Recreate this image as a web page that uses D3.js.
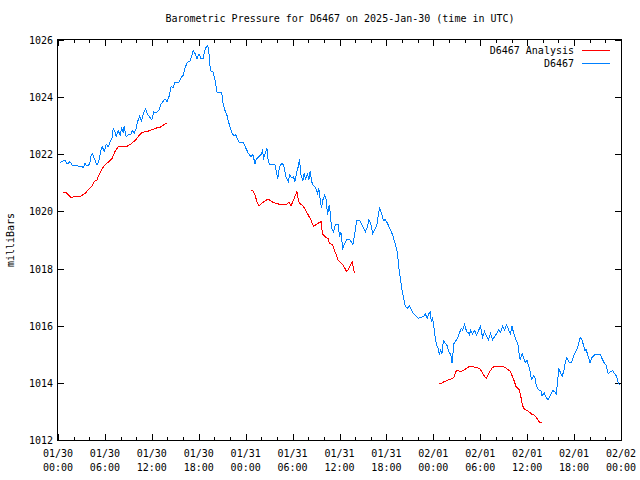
<!DOCTYPE html>
<html>
<head>
<meta charset="utf-8">
<script src="https://cdn.jsdelivr.net/npm/d3@7"></script>
<style>
  html, body { margin: 0; padding: 0; background: #fff; }
  text { font-family: "DejaVu Sans Mono", "Liberation Mono", monospace; font-size: 10px; fill: #000; }
</style>
</head>
<body>
<svg id="chart" width="640" height="480"></svg>
<script>
// ---- Data (hours since 2025-01-30 00:00 UTC, pressure in millibars) ----
const stationHours = [0.26,0.89,1.15,1.53,1.79,2.17,2.43,2.68,3.03,3.23,3.45,3.70,4.05,4.21,4.38,4.63,4.98,5.23,5.49,5.66,5.91,6.17,6.42,6.68,6.93,7.06,7.28,7.44,7.70,7.95,8.13,8.34,8.46,8.72,8.97,9.32,9.49,9.74,10.0,10.17,10.43,10.69,10.94,11.20,11.45,11.74,12.0,12.26,12.60,12.93,13.19,13.44,13.70,13.95,14.21,14.46,14.72,14.97,15.49,15.74,16.0,16.25,16.51,16.85,17.11,17.27,17.53,17.78,18.04,18.29,18.55,18.73,18.98,19.15,19.31,19.49,19.83,20.08,20.34,20.59,20.94,21.10,21.36,21.61,21.79,22.05,22.21,22.47,22.72,22.89,23.14,23.65,24.0,24.34,24.68,24.93,25.19,25.37,25.70,25.95,26.13,26.30,26.55,26.72,26.90,27.06,27.74,27.92,28.09,28.34,28.60,28.85,29.02,29.19,29.45,29.62,29.87,30.13,30.29,30.55,30.73,30.89,31.06,31.31,31.49,31.66,31.91,32.08,32.26,32.43,32.68,32.94,33.19,33.36,33.54,33.70,33.87,34.12,34.30,34.47,34.63,34.72,34.98,35.23,35.49,35.83,36.00,36.17,36.42,36.68,36.93,37.37,37.70,37.95,38.21,38.55,38.81,39.06,39.32,39.57,39.74,40.0,40.25,40.51,40.76,40.94,41.11,41.36,41.62,41.87,42.13,42.38,42.64,42.89,43.15,43.40,43.57,43.75,44.00,44.26,44.43,44.68,44.94,45.19,45.45,45.61,45.87,46.12,46.38,46.72,46.98,47.23,47.40,47.58,47.74,47.91,48.09,48.26,48.42,48.60,48.77,48.93,49.11,49.28,49.53,49.79,50.04,50.21,50.39,50.64,50.90,51.15,51.32,51.57,51.74,52.0,52.25,52.43,52.60,52.76,53.02,53.27,53.53,53.78,54.04,54.29,54.55,54.80,55.06,55.31,55.57,55.82,56.08,56.34,56.59,56.85,57.10,57.36,57.61,57.87,58.05,58.30,58.56,58.81,58.89,59.11,59.36,59.62,59.78,59.96,60.22,60.38,60.55,60.81,60.98,61.15,61.32,61.57,61.75,61.91,62.17,62.43,62.68,63.28,63.54,63.70,63.87,64.05,64.21,64.47,64.72,64.89,65.07,65.40,65.66,65.83,66.09,66.34,66.60,66.77,67.02,67.19,67.37,67.53,67.79,68.04,68.30,68.72,69.06,69.32,69.66,69.92,70.09,70.34,70.69,70.94,71.20,71.45,71.62,71.78];
const stationPressure = [1021.72,1021.80,1021.65,1021.74,1021.63,1021.59,1021.63,1021.56,1021.59,1021.53,1021.68,1021.59,1021.65,1021.92,1022.03,1021.86,1021.63,1021.77,1022.15,1022.27,1022.09,1022.35,1022.27,1022.44,1022.58,1022.91,1022.79,1022.61,1022.82,1022.68,1022.91,1022.77,1022.97,1022.61,1022.68,1022.70,1022.85,1022.73,1022.91,1023.14,1023.32,1023.17,1023.43,1023.59,1023.40,1023.29,1023.21,1023.48,1023.45,1023.56,1023.76,1023.85,1023.94,1023.85,1024.03,1024.38,1024.34,1024.53,1024.53,1024.69,1024.76,1025.02,1025.21,1025.25,1025.43,1025.63,1025.53,1025.35,1025.51,1025.35,1025.35,1025.58,1025.78,1025.81,1025.51,1024.93,1024.88,1024.61,1024.18,1024.15,1024.15,1023.80,1023.53,1023.36,1023.15,1022.92,1022.75,1022.66,1022.69,1022.57,1022.43,1022.43,1022.23,1022.03,1021.92,1022.00,1021.65,1021.84,1021.92,1021.98,1022.12,1021.88,1022.07,1022.21,1021.74,1021.63,1021.63,1021.39,1021.14,1021.57,1021.68,1021.63,1021.39,1021.18,1021.04,1021.28,1021.18,1021.22,1021.02,1021.39,1021.57,1021.84,1021.28,1021.07,1021.33,1021.14,1021.30,1021.10,1021.42,1021.04,1020.90,1020.83,1020.63,1020.81,1020.40,1020.11,1020.40,1020.58,1020.40,1019.88,1020.17,1020.23,1019.41,1019.29,1019.56,1019.56,1019.12,1019.29,1018.71,1018.88,1019.02,1019.00,1018.83,1019.23,1019.70,1019.70,1019.56,1019.44,1019.29,1019.47,1019.70,1019.58,1019.23,1019.37,1019.49,1019.84,1020.11,1019.96,1019.68,1019.72,1019.58,1019.44,1019.29,1019.09,1018.83,1018.56,1018.07,1017.72,1017.25,1016.90,1016.67,1016.61,1016.69,1016.55,1016.43,1016.38,1016.32,1016.26,1016.29,1016.32,1016.41,1016.26,1016.41,1016.49,1016.14,1016.26,1015.91,1015.56,1015.33,1015.21,1015.01,1015.15,1015.03,1015.48,1015.38,1015.29,1015.03,1015.03,1014.71,1015.38,1015.48,1015.59,1015.73,1015.91,1015.85,1016.06,1015.79,1015.76,1015.68,1015.83,1015.71,1015.83,1015.68,1015.83,1015.99,1015.59,1015.79,1015.64,1015.50,1015.73,1015.50,1015.62,1015.71,1015.85,1015.76,1015.99,1015.85,1016.03,1015.87,1015.71,1015.99,1015.71,1015.50,1015.38,1015.15,1014.80,1015.03,1014.80,1014.71,1014.80,1014.57,1014.39,1014.12,1014.24,1014.19,1013.93,1013.81,1013.73,1013.75,1013.54,1013.66,1013.49,1013.40,1013.73,1013.69,1013.61,1013.98,1014.51,1014.39,1014.22,1014.45,1014.74,1014.89,1014.71,1014.71,1014.86,1015.03,1015.17,1015.38,1015.59,1015.50,1015.33,1015.13,1015.17,1014.94,1014.71,1014.89,1015.01,1014.98,1015.01,1014.80,1014.66,1014.63,1014.33,1014.39,1014.43,1014.31,1014.22,1014.04,1013.93,1014.01];

// Analysis series: null marks a gap between analysis runs
const analysisHours = [0.64,0.98,1.31,1.66,2.26,2.94,3.45,3.87,4.30,4.63,4.98,5.32,5.66,6.09,6.51,6.93,7.28,7.70,8.30,8.90,9.41,9.92,10.43,10.76,11.36,11.87,12.60,13.02,13.44,13.79,13.95,
  null,
  24.68,24.93,25.19,25.44,25.70,26.04,26.46,26.81,27.15,27.49,27.92,28.34,28.76,29.20,29.53,29.78,30.04,30.29,30.55,30.73,30.89,31.32,31.66,32.00,32.34,32.68,33.03,33.45,33.70,33.79,34.12,34.56,34.72,35.14,35.32,35.58,35.83,36.17,36.42,36.68,36.93,37.11,37.37,37.62,37.79,37.88,
  null,
  48.68,49.02,49.37,49.70,50.13,50.46,50.72,50.81,51.06,51.41,51.83,52.17,52.60,53.02,53.45,53.87,54.22,54.55,54.80,55.15,55.49,55.75,56.26,56.77,57.19,57.54,57.87,58.12,58.38,58.56,58.81,59.02,59.19,59.36,59.53,59.87,60.22,60.55,60.89,61.15,61.40,61.57,61.91];
const analysisPressure = [1020.67,1020.67,1020.58,1020.49,1020.52,1020.54,1020.63,1020.75,1020.87,1021.04,1021.10,1021.33,1021.51,1021.65,1021.74,1021.86,1022.09,1022.27,1022.27,1022.29,1022.38,1022.50,1022.68,1022.77,1022.79,1022.85,1022.92,1022.94,1023.01,1023.08,1023.06,
  null,
  1020.75,1020.72,1020.58,1020.34,1020.20,1020.28,1020.37,1020.42,1020.39,1020.32,1020.28,1020.25,1020.23,1020.25,1020.32,1020.20,1020.34,1020.52,1020.69,1020.40,1020.28,1020.20,1020.05,1019.88,1019.70,1019.47,1019.55,1019.62,1019.64,1019.23,1019.12,1019.04,1018.88,1018.83,1018.65,1018.48,1018.30,1018.21,1018.13,1018.01,1017.89,1017.97,1018.09,1018.24,1018.01,1017.86,
  null,
  1013.96,1013.98,1014.04,1014.08,1014.12,1014.16,1014.22,1014.39,1014.43,1014.40,1014.42,1014.50,1014.57,1014.57,1014.53,1014.51,1014.39,1014.22,1014.16,1014.36,1014.51,1014.57,1014.57,1014.57,1014.54,1014.47,1014.39,1014.22,1014.04,1013.87,1013.81,1013.75,1013.52,1013.28,1013.11,1013.05,1012.99,1012.91,1012.88,1012.79,1012.70,1012.63,1012.62];

const yTicks = [1012, 1014, 1016, 1018, 1020, 1022, 1024, 1026];
const seriesNames = ["D6467 Analysis", "D6467"];
const seriesColors = ["#ff0000", "#0080ff"];
const titleText = "Barometric Pressure for D6467 on 2025-Jan-30 (time in UTC)";
const yLabel = "milliBars";

// ---- Layout ----
const svg = d3.select("#chart");
const L = 58, R = 621, T = 40, B = 440;
const start = Date.UTC(2025, 0, 30, 0, 0);
const end = Date.UTC(2025, 1, 2, 0, 0);
const toDate = h => new Date(start + h * 3600e3);

const x = d3.scaleUtc().domain([new Date(start), new Date(end)]).range([L, R]);
const y = d3.scaleLinear().domain([1012, 1026]).range([B, T]);

const majorX = d3.utcHour.every(6).range(new Date(start), new Date(end + 1));
const minorX = d3.utcHour.every(2).range(new Date(start), new Date(end + 1));

// Title
svg.append("text").attr("x", 340).attr("y", 22).attr("text-anchor", "middle").text(titleText);

// Y label
svg.append("text").attr("transform", "translate(14,240) rotate(-90)")
  .attr("text-anchor", "middle").text(yLabel);

const g = svg.append("g").attr("shape-rendering", "crispEdges");

// ticks (inward, mirrored)
minorX.forEach(d => {
  const isMajor = d.getUTCHours() % 6 === 0;
  const len = isMajor ? 6 : 3;
  const xx = Math.round(x(d)) + 0.5;
  g.append("line").attr("x1", xx).attr("x2", xx).attr("y1", B).attr("y2", B - len).attr("stroke", "#000");
  g.append("line").attr("x1", xx).attr("x2", xx).attr("y1", T).attr("y2", T + len).attr("stroke", "#000");
});
yTicks.forEach(v => {
  const yy = Math.round(y(v)) + 0.5;
  g.append("line").attr("x1", L).attr("x2", L + 6).attr("y1", yy).attr("y2", yy).attr("stroke", "#000");
  g.append("line").attr("x1", R).attr("x2", R - 6).attr("y1", yy).attr("y2", yy).attr("stroke", "#000");
});

// Y tick labels
yTicks.forEach(v => {
  svg.append("text").attr("x", 53).attr("y", y(v) + 4).attr("text-anchor", "end").text(v);
});

// X tick labels
const fmtDay = d3.utcFormat("%m/%d"), fmtTime = d3.utcFormat("%H:%M");
majorX.forEach(d => {
  const t = svg.append("text").attr("x", x(d)).attr("y", 457).attr("text-anchor", "middle");
  t.append("tspan").attr("x", x(d)).text(fmtDay(d));
  t.append("tspan").attr("x", x(d)).attr("dy", 14).text(fmtTime(d));
});

// Lines
const line = d3.line()
  .defined((d) => d[0] !== null && d[1] !== null)
  .x(d => x(toDate(d[0])))
  .y(d => y(d[1]));

const stationData = stationHours.map((h, i) => [h, stationPressure[i]]);
const analysisData = analysisHours.map((h, i) => [h, analysisPressure[i]]);

svg.append("path").datum(analysisData).attr("d", line)
  .attr("fill", "none").attr("stroke", seriesColors[0]).attr("stroke-width", 1)
  .attr("shape-rendering", "crispEdges");
svg.append("path").datum(stationData).attr("d", line)
  .attr("fill", "none").attr("stroke", seriesColors[1]).attr("stroke-width", 1)
  .attr("shape-rendering", "crispEdges");

// Frame
g.append("rect").attr("x", L - 0.5).attr("y", T - 0.5).attr("width", R - L + 1).attr("height", B - T + 1)
  .attr("fill", "none").attr("stroke", "#000");

// Legend
seriesNames.forEach((name, i) => {
  const ly = 50 + i * 13;
  svg.append("text").attr("x", 574).attr("y", ly + 4).attr("text-anchor", "end").text(name);
  g.append("line").attr("x1", 582).attr("x2", 610).attr("y1", ly + 0.5).attr("y2", ly + 0.5)
    .attr("stroke", seriesColors[i]);
});
</script>
</body>
</html>
